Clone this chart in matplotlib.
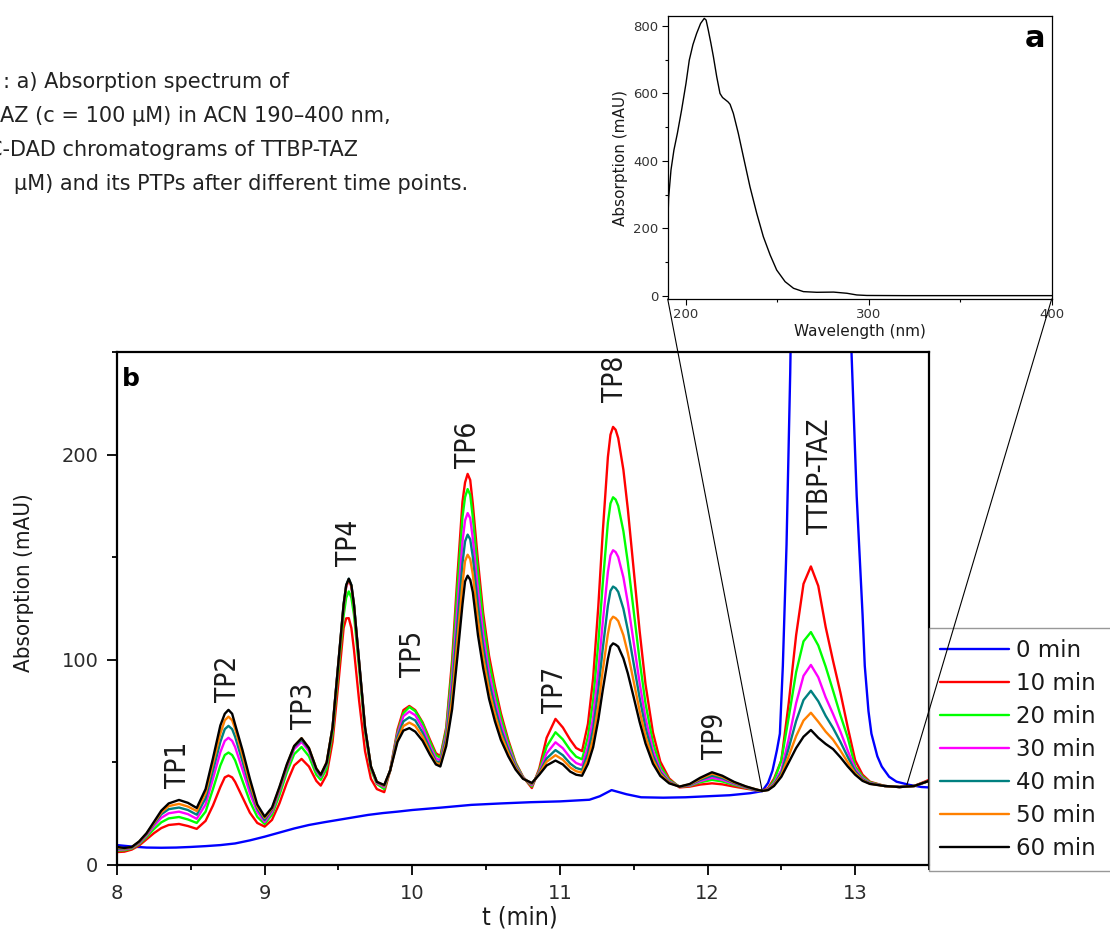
import matplotlib
matplotlib.use('Agg')
import matplotlib.pyplot as plt
from matplotlib.patches import ConnectionPatch

plt.rcParams['font.family'] = ['DejaVu Sans']

# ---- chromatogram data (retention time in min, absorption in mAU) ----
t_min = [8.00, 8.05, 8.10, 8.15, 8.20, 8.25, 8.30, 8.35, 8.42, 8.48, 8.54,
         8.60, 8.65, 8.70, 8.73, 8.755, 8.78, 8.80, 8.85, 8.90, 8.95, 9.00,
         9.05, 9.10, 9.15, 9.20, 9.25, 9.30, 9.35, 9.38,
         9.42, 9.46, 9.50, 9.535, 9.5525, 9.57, 9.5875, 9.605, 9.64, 9.68, 9.72, 9.76, 9.81,
         9.85, 9.90, 9.94, 9.98, 10.02, 10.07, 10.12, 10.16, 10.19,
         10.23, 10.27, 10.305, 10.34, 10.3575, 10.375, 10.3925, 10.41, 10.445, 10.48, 10.52, 10.56,
         10.60, 10.65, 10.70, 10.75, 10.81,
         10.86, 10.91, 10.97, 11.02, 11.07, 11.11, 11.15,
         11.19, 11.225, 11.26, 11.29, 11.325, 11.3425, 11.36, 11.3775, 11.395, 11.43, 11.46, 11.50,
         11.54, 11.58, 11.63, 11.68, 11.74, 11.81,
         11.88, 11.95, 12.03, 12.10, 12.18, 12.26, 12.33, 12.37,
         12.41, 12.45, 12.50, 12.55, 12.60, 12.65, 12.70, 12.75, 12.80, 12.85, 12.90, 12.95, 13.00,
         13.05, 13.10, 13.20, 13.30, 13.40, 13.50]

abs_10min = [6.3, 6.5, 7.5, 9.5, 12.5, 15.5, 18, 19.5, 20, 19, 17.6,
             21.5, 29, 38, 42.7, 43.6, 42.7, 40.5, 33, 25.5, 20.5, 18.7,
             22, 30, 40, 48.5, 51.7, 48, 41, 38.7,
             44, 60, 89, 115.5, 120.2, 120.3, 115.5, 105, 80, 55.5, 42, 37, 35.5,
             46, 66, 75.5, 77.5, 75.5, 69.5, 61, 54.5, 53,
             67, 100, 140, 177, 186.4, 190.6, 187.6, 176, 148, 123, 102, 87, 74, 61, 50, 43, 37.5,
             47, 62, 71.2, 67, 61, 57, 55.5,
             68.8, 91, 126, 162, 198.8, 209.7, 213.5, 212.1, 208, 192.6, 173.5, 143.7,
             114, 88, 64.6, 50.4, 42.2, 37.8,
             38.2, 39.2, 39.8, 39.3, 38.2, 37.2, 36.4, 36.1,
             37.5, 42, 51, 79, 112, 137, 145.5, 136, 116, 99.5, 84, 67, 51, 44, 40.6, 38.5, 38, 38.5, 41.5]

abs_20min = [7, 7.2, 8, 10.2, 13.6, 17.5, 20.8, 22.7, 23.4, 22.2, 20.5,
             26, 37, 48.5, 53.6, 54.8, 53.6, 51, 41, 31, 23.5, 20,
             24.5, 34, 45, 54, 57.5, 53, 44, 41.5,
             47, 64, 95, 121.5, 130.3, 133.3, 130.3, 122, 95.5, 65, 46.5, 39.5, 37,
             46, 64.5, 74, 77, 75, 69, 60, 53.5, 52.3,
             65.7, 96.4, 134, 169.5, 179.3, 183.2, 180.4, 169.5, 142.6, 119, 98.8, 84.5, 72, 59.8, 49.5, 42.8, 38.3,
             46, 57.7, 64.7, 61.2, 56, 52.8, 51.5,
             62.5, 80.1, 108.1, 137, 166.9, 176.2, 179.2, 178.1, 175, 162.7, 147.5, 123.6,
             99.6, 78.6, 59.7, 48.1, 41.4, 38.2,
             38.6, 40.3, 41.5, 40.7, 39, 37.6, 36.5, 36.1,
             37, 41, 51, 72, 94, 109, 113.5, 107, 96.7, 85, 73, 62, 48, 43, 40.3, 38.5, 38, 38.5, 41]

abs_30min = [7.5, 7.6, 8.3, 10.6, 14.4, 19, 23, 25.2, 26, 24.8, 22.5,
             29.5, 42, 55, 60.5, 62, 60.5, 57.5, 46.5, 35, 26, 21,
             26, 36, 47, 56.5, 60, 55.5, 46, 43,
             49, 66.5, 98.5, 126, 135.6, 138.6, 135.6, 126.5, 98.5, 66.5, 47.5, 40, 38,
             46, 63.5, 72.5, 74.8, 73, 67, 58, 52, 51,
             63.5, 90.6, 124.8, 157.5, 167.9, 171.5, 169, 159.2, 134, 112.5, 93.8, 80.4, 69, 57.9, 48.6, 42.6, 38.9,
             45.3, 54.4, 59.8, 56.9, 52.3, 49.7, 48.6,
             57.7, 71.8, 94.5, 118.2, 142.8, 150.9, 153.4, 152.5, 150.1, 140.2, 127.8, 108.4,
             88.7, 71.6, 55.9, 46.4, 40.8, 38.2,
             38.8, 40.9, 42.5, 41.5, 39.5, 37.8, 36.6, 36.1,
             36.9, 39.9, 46.2, 61.5, 78.9, 92.2, 97.5, 91.5, 81.7, 73.6, 65, 55.6, 46.8, 42.2, 40, 38.5, 38, 38.5, 41]

abs_40min = [8, 7.9, 8.5, 11, 15, 20, 24.7, 27.2, 28, 26.8, 24.5,
             32.5, 46, 60, 66.2, 67.8, 66.2, 62.5, 50.5, 38, 27.5, 22,
             27, 37, 48, 57.5, 61, 56.5, 46.5, 43.5,
             49.5, 67, 99, 127, 136.4, 139.5, 136.4, 127, 99, 67, 48, 40.5, 38.5,
             46, 62.5, 70, 72, 70.5, 64.5, 56.5, 50.5, 50,
             61.6, 85.6, 116.6, 147, 157.7, 161, 158.7, 150.2, 126.4, 106.8, 89.4, 76.8, 66.2, 56.2, 47.9, 42.4, 39.4,
             44.8, 51.9, 56, 53.5, 49.4, 47.3, 46.4,
             54.4, 66.2, 85.3, 105.3, 126.4, 133.6, 135.7, 134.9, 133.1, 124.9, 114.5, 98,
             81.4, 66.8, 53.4, 45.2, 40.4, 38.2,
             39, 41.5, 43.5, 42.3, 39.9, 38, 36.7, 36.1,
             36.7, 39.3, 44.9, 57, 70.2, 80.4, 84.9, 79.8, 72.7, 66.8, 60, 52.6, 45.7, 41.7, 39.8, 38.5, 38, 38.5, 41]

abs_50min = [8.4, 8.1, 8.7, 11.3, 15.3, 20.5, 25.7, 28.7, 29.8, 28.5, 26.3,
             35, 49.5, 64, 70.5, 72.3, 70.5, 66.5, 53.5, 40, 28.5, 23,
             27.5, 37.5, 48.5, 58, 61.8, 57, 47, 44,
             50, 67, 98.5, 126.5, 135.9, 139, 135.9, 126.5, 98.5, 67, 48, 40.5, 38.7,
             46, 61, 67.7, 69.4, 67.8, 62.5, 55, 49.7, 49,
             59.8, 80.8, 108.8, 137, 148.1, 151.2, 149.1, 141.6, 119.2, 101.4, 85.2, 73.4, 63.6, 54.6, 47.2, 42.2, 39.7,
             44.4, 50.3, 53.5, 51.3, 47.5, 45.7, 45,
             51.7, 61.5, 77.6, 94.6, 112.6, 119.2, 121, 120.3, 118.9, 112, 103.3, 89.3,
             75.1, 62.7, 51.3, 44.3, 40.1, 38.2,
             39.3, 42, 44.5, 43, 40.2, 38.2, 36.8, 36.1,
             36.6, 38.9, 43.8, 53.1, 62.8, 70.4, 74.2, 69.8, 65, 61.1, 55.8, 50, 44.7, 41.3, 39.6, 38.5, 38, 38.5, 41]

abs_60min = [8.8, 8.3, 8.8, 11.5, 15.5, 21, 26.5, 30, 31.7, 30.3, 27.8,
             37, 52, 68, 73.7, 75.6, 73.7, 68.5, 56, 42, 29.5, 23.6,
             28, 38, 49, 58, 61.8, 57, 47, 44,
             50, 67, 99, 127, 136.4, 139.5, 136.4, 127, 99, 67, 48, 40.5, 39,
             46, 60, 65.5, 66.7, 65, 60.5, 53.7, 49, 48,
             58, 76, 101, 127, 138.2, 141, 139, 133, 112, 96, 81, 70, 61, 53, 46.5, 42, 40,
             44, 48.5, 50.9, 49, 45.5, 44, 43.5,
             49.3, 57.4, 70.8, 85.1, 100.5, 106.5, 108, 107.4, 106.4, 100.7, 93.4, 81.7,
             69.7, 59.2, 49.4, 43.4, 39.8, 38.2,
             39.5, 42.5, 45.2, 43.5, 40.5, 38.3, 36.8, 36.1,
             36.5, 38.5, 43, 50, 57, 62.5, 65.8, 62, 59, 56.5, 52.5, 48, 44, 41, 39.5, 38.5, 38, 38.5, 41]

# 0 min sample has its own time points (parent peak goes far off scale)
t_0min = [8.00, 8.10, 8.20, 8.30, 8.40, 8.50, 8.60, 8.70, 8.80, 8.90, 9.00,
          9.10, 9.20, 9.30, 9.40, 9.50, 9.60, 9.70, 9.80, 9.90, 10.00,
          10.20, 10.40, 10.60, 10.80, 11.00, 11.20,
          11.27, 11.35, 11.45, 11.55, 11.70, 11.85, 12.00, 12.15, 12.29, 12.37,
          12.41, 12.44, 12.47, 12.49, 12.51, 12.535, 12.56, 12.60, 12.65, 12.70, 12.77, 12.85, 12.90,
          12.93, 12.975, 13.01, 13.05, 13.065, 13.09, 13.11, 13.15, 13.18, 13.23, 13.28, 13.37, 13.45, 13.50]
abs_0min = [9.7, 9.0, 8.5, 8.4, 8.5, 8.8, 9.2, 9.7, 10.5, 12.0, 13.8,
            15.8, 17.8, 19.5, 20.8, 22.0, 23.2, 24.4, 25.3, 26.0, 26.8,
            28.0, 29.3, 30.0, 30.6, 31.0, 31.8,
            33.5, 36.5, 34.5, 33.0, 32.8, 33.0, 33.5, 34.0, 35.0, 36.0,
            40.0, 46.0, 56.0, 64.0, 97.0, 156.0, 240.0, 425.0, 740.0, 1060.0, 1280.0, 1000.0, 670.0,
            480.0, 250.0, 180.0, 122.0, 97.0, 75.0, 64.0, 53.0, 48.0, 43.0, 40.6, 39.0, 38.0, 37.8]

series_labels = ['0 min', '10 min', '20 min', '30 min', '40 min', '50 min', '60 min']
series_colors = ['#0000ff', '#ff0000', '#00ff00', '#ff00ff', '#008080', '#ff8000', '#000000']

# peak annotations
peak_names = ['TP1', 'TP2', 'TP3', 'TP4', 'TP5', 'TP6', 'TP7', 'TP8', 'TP9', 'TTBP-TAZ']
peak_t = [8.415, 8.755, 9.265, 9.57, 10.005, 10.375, 10.965, 11.375, 12.05, 12.76]
peak_label_y = [37.5, 79.5, 66.5, 145.5, 91.5, 193.5, 74, 225.5, 51.5, 161.5]

# ---- UV spectrum of TTBP-TAZ (inset a) ----
wavelength = [190, 190.5, 191.8, 193.4, 195.3, 197.6, 200, 201.8, 203.8, 205.8, 208, 210, 211,
              212.2, 213.6, 215, 216.8, 218.6, 220, 221.4, 223, 224.1, 225.9, 228.6, 231.4,
              235, 238.7, 242.3, 246, 249.6, 254.2, 258.8, 264.2, 271.5, 280.7, 288, 293.4,
              298.9, 320, 360, 400]
spectrum = [200, 290, 373, 432, 482, 551, 630, 699, 745, 778, 808, 823, 818,
            788, 750, 709, 650, 600, 588, 582, 575, 568, 541, 482, 412,
            323, 244, 175, 121, 76, 41.5, 21.8, 11.9, 9.9, 10.5, 7, 2,
            0.5, 0, 0, 0]

caption_lines = [': a) Absorption spectrum of',
                 'AZ (c = 100 µM) in ACN 190–400 nm,',
                 'C-DAD chromatograms of TTBP-TAZ',
                 'µM) and its PTPs after different time points.']

W, H = 1110, 933
fig = plt.figure(figsize=(W / 100, H / 100), dpi=100)

# main chromatogram axes (b)
ax = fig.add_axes([117 / W, 1 - 865 / H, 812 / W, 513 / H])
all_series = [abs_0min, abs_10min, abs_20min, abs_30min, abs_40min, abs_50min, abs_60min]
handles = []
for i, (vals, lab, col) in enumerate(zip(all_series, series_labels, series_colors)):
    xs = t_0min if i == 0 else t_min
    h, = ax.plot(xs, vals, color=col, lw=1.7, label=lab,
                 solid_joinstyle='round', solid_capstyle='round')
    handles.append(h)

ax.set_xlim(8, 13.5)
ax.set_ylim(0, 250)
ax.set_xticks([8, 9, 10, 11, 12, 13])
ax.set_xticks([8.5, 9.5, 10.5, 11.5, 12.5, 13.5], minor=True)
ax.set_yticks([0, 100, 200])
ax.set_yticks([50, 150, 250], minor=True)
ax.tick_params(which='major', direction='out', length=7.5, width=1.3, pad=6,
               labelsize=14, labelcolor='#2b2b2b', top=False, right=False)
ax.tick_params(which='minor', direction='out', length=3.5, width=1.3, top=False, right=False)
for sp in ax.spines.values():
    sp.set_linewidth(1.6)

for name, x, y in zip(peak_names, peak_t, peak_label_y):
    ax.text(x, y, name, rotation=90, ha='center', va='bottom',
            fontsize=20, fontstretch='condensed', color='#1a1a1a')

ax.text(0.006, 0.934, 'b', transform=ax.transAxes, ha='left', va='baseline',
        fontsize=18, fontweight='bold')

fig.text(24 / W, 1 - 583 / H, 'Absorption (mAU)', rotation=90, ha='center', va='center',
         fontsize=16, fontstretch='condensed', color='#1a1a1a')
fig.text(520 / W, 1 - 917 / H, 't (min)', ha='center', va='center',
         fontsize=18, fontstretch='condensed', color='#1a1a1a')

leg = ax.legend(handles=handles, loc='upper left', bbox_to_anchor=(1.0, 0.0, 0.5, 0.462),
                mode='expand', borderaxespad=0, fontsize=16.5, frameon=True, fancybox=False,
                edgecolor='#7f7f7f', handlelength=3.0, handletextpad=0.3,
                labelspacing=0.43, borderpad=0.5)
leg.get_frame().set_linewidth(1.0)
for txt in leg.get_texts():
    txt.set_color('#1a1a1a')

# inset spectrum (a)
ax_in = fig.add_axes([667.7 / W, 1 - 299 / H, 384 / W, 283 / H])
ax_in.plot(wavelength, spectrum, color='black', lw=1.0)
ax_in.set_xlim(190, 400)
ax_in.set_ylim(-10, 830)
ax_in.set_xticks([200, 300, 400])
ax_in.set_xticks([250, 350], minor=True)
ax_in.set_yticks([0, 200, 400, 600, 800])
ax_in.set_yticks([100, 300, 500, 700], minor=True)
ax_in.tick_params(which='major', direction='out', length=4.5, width=0.8, pad=2,
                  labelsize=9.5, labelcolor='#333333')
ax_in.tick_params(which='minor', direction='out', length=2.5, width=0.8)
for sp in ax_in.spines.values():
    sp.set_linewidth(0.9)
ax_in.set_xlabel('Wavelength (nm)', fontsize=11, color='#1a1a1a', labelpad=2)
ax_in.set_ylabel('Absorption (mAU)', fontsize=11, color='#1a1a1a', labelpad=4)
ax_in.text(0.983, 0.89, 'a', transform=ax_in.transAxes, ha='right', va='baseline',
           fontsize=22, fontweight='bold')

# zoom lines from inset corners to the parent peak region
for xa, xb, yb in [(0, 12.37, 36.1), (1, 13.35, 39.0)]:
    con = ConnectionPatch(xyA=(xa, 0), coordsA=ax_in.transAxes,
                          xyB=(xb, yb), coordsB=ax.transData,
                          color='black', lw=0.8)
    fig.add_artist(con)

# cropped figure caption at top left
cap_x = [3, 0, -12, 14]
cap_y = [82, 116, 150, 184]
for line, px, py in zip(caption_lines, cap_x, cap_y):
    fig.text(px / W, 1 - py / H, line, ha='left', va='center', fontsize=15, color='#222222')

fig.savefig('out.png', dpi=100)
